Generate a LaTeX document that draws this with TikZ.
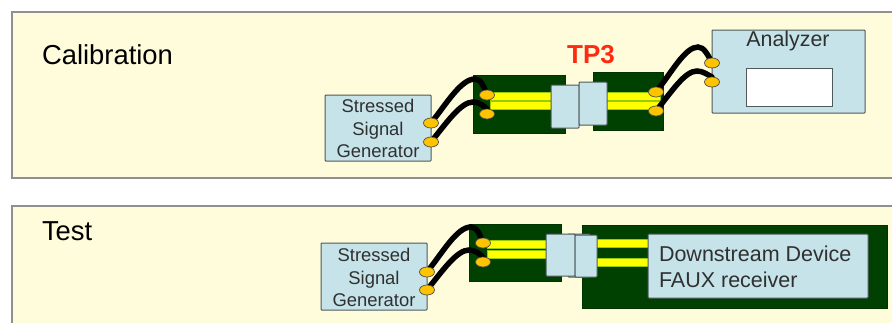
\documentclass[tikz,border=0pt]{standalone}
\usepackage{fontspec}
\setmainfont{Liberation Sans}
\usetikzlibrary{shapes.geometric}
\definecolor{panelfill}{HTML}{FFFCDC}
\definecolor{panelline}{HTML}{909090}
\definecolor{boxfill}{HTML}{C5E3E8}
\definecolor{boxline}{HTML}{505A5C}
\definecolor{boardgreen}{HTML}{004000}
\definecolor{traceyellow}{HTML}{FFFF00}
\definecolor{padgold}{HTML}{FFC400}
\definecolor{inktext}{HTML}{303030}
\definecolor{tpred}{HTML}{FF2A10}
\newcommand{\sized}[2]{\fontsize{#1}{#2}\selectfont}
\newcommand{\rbox}[7][]{%
  \pgfmathsetmacro{\rcx}{(#3+#5)/2}\pgfmathsetmacro{\rcy}{(#4+#6)/2}%
  \pgfmathsetmacro{\rw}{#5-#3}\pgfmathsetmacro{\rh}{#6-#4}%
  \node[#1,minimum width=\rw pt,minimum height=\rh pt] (#2) at (\rcx,\rcy) {#7};}
\pgfdeclarelayer{padlayer}
\pgfsetlayers{main,padlayer}
\tikzset{
  x=1pt,y=-1pt,
  every node/.style={inner sep=0pt,outer sep=0pt,text=inktext},
  panel/.style={rectangle,fill=panelfill,draw=panelline,line width=1.4pt},
  device/.style={rectangle,fill=boxfill,draw=boxline,line width=1pt,rounded corners=0.8pt},
  board/.style={rectangle,fill=boardgreen,draw=boardgreen!80!black,line width=0.5pt},
  trace/.style={rectangle,fill=traceyellow,draw=traceyellow!75!green!80!black,line width=0.5pt},
  pad/.style={ellipse,fill=padgold,draw=black!70,line width=0.7pt,minimum width=15pt,minimum height=10pt},
  cable/.style={draw=black,line width=5.5pt,line cap=round},
  screen/.style={rectangle,fill=white,draw=boxline,line width=1pt},
  heading/.style={text=black,font=\sized{27.4}{30},anchor=base west},
  stacked/.style={align=center,font=\sized{18.4}{22.5},text=inktext},
}
\begin{document}
\begin{tikzpicture}
\useasboundingbox (0,0) rectangle (892,322);
% Panels
\rbox[panel]{calp}{12}{12}{900}{178}{}
\rbox[panel]{testp}{12}{206}{900}{330}{}
\node[heading] (calh) at (42,64) {Calibration};
\node[heading] (testh) at (42,240) {Test};
% --- Calibration ---
\rbox[board]{bl}{473}{75}{565}{133}{}
\rbox[board]{br}{593}{72}{663}{130}{}
\rbox[trace]{tl1}{490}{92}{552}{100}{}
\rbox[trace]{tl2}{490}{101}{552}{109}{}
\rbox[trace]{tr1}{606}{92}{660}{100}{}
\rbox[trace]{tr2}{606}{101}{660}{109}{}
\rbox[device]{cl}{551}{85}{579}{128}{}
\rbox[device]{cr}{579}{82}{607}{125}{}
\rbox[device]{gen}{325}{95}{431}{161}{}
\node[stacked] (gent) at (378,128.5) {Stressed\\Signal\\Generator};
\rbox[device]{ana}{712}{30}{865}{113}{}
\node[font=\sized{21.4}{24},text=inktext] (anat) at (788,41) {Analyzer};
\rbox[screen]{scr}{746}{68}{832}{106}{}
\begin{pgfonlayer}{padlayer}
\node[pad] (g1) at (431,123) {};
\node[pad] (g2) at (431,142) {};
\node[pad] (p1) at (487,95) {};
\node[pad] (p2) at (487,114) {};
\node[pad] (q1) at (656,92) {};
\node[pad] (q2) at (656,111) {};
\node[pad] (a1) at (712,63) {};
\node[pad] (a2) at (712,82) {};
\end{pgfonlayer}
\draw[cable] (g1.center) .. controls (447,103) and (461,79) .. (475,79) .. controls (481,79) and (484,87) .. (p1.center);
\draw[cable] (g2.center) .. controls (447,122) and (461,102) .. (473,102) .. controls (479,102) and (484,106) .. (p2.north);
\draw[cable] (q1.center) .. controls (672,72) and (685,47) .. (698,47) .. controls (704,47) and (708,55) .. (a1.center);
\draw[cable] (q2.center) .. controls (672,91) and (685,71) .. (697,71) .. controls (703,71) and (708,75) .. (a2.north);
\node[font=\bfseries\sized{26}{30},text=tpred] (tp3) at (591,55) {TP3};
% --- Test ---
\rbox[board]{bl2}{469}{224}{561}{281}{}
\rbox[board]{big}{582}{225}{887}{308}{}
\rbox[trace]{ul1}{487}{240}{547}{248}{}
\rbox[trace]{ul2}{487}{250}{547}{258}{}
\rbox[trace]{ur1}{596}{239}{649}{247}{}
\rbox[trace]{ur2}{596}{258}{649}{266}{}
\rbox[device]{dl0}{568}{234}{590}{277}{}
\rbox[device]{dl}{546}{234}{575}{276}{}
\rbox[device]{dr}{575}{235}{597}{277}{}
\rbox[device]{gen2}{321}{243}{427}{310}{}
\node[stacked] (gent2) at (374,277.5) {Stressed\\Signal\\Generator};
\rbox[device]{dev}{648}{234}{868}{298}{}
\node[font=\sized{21.5}{26},text=inktext,align=left,anchor=west] (devt) at (659,267) {Downstream Device\\FAUX receiver};
\begin{pgfonlayer}{padlayer}
\node[pad] (h1) at (427,272) {};
\node[pad] (h2) at (427,290) {};
\node[pad] (r1) at (483,243) {};
\node[pad] (r2) at (483,262) {};
\end{pgfonlayer}
\draw[cable] (h1.center) .. controls (443,252) and (457,227) .. (471,227) .. controls (477,227) and (480,235) .. (r1.center);
\draw[cable] (h2.center) .. controls (443,270) and (457,250) .. (469,250) .. controls (475,250) and (480,254) .. (r2.north);
\end{tikzpicture}
\end{document}
